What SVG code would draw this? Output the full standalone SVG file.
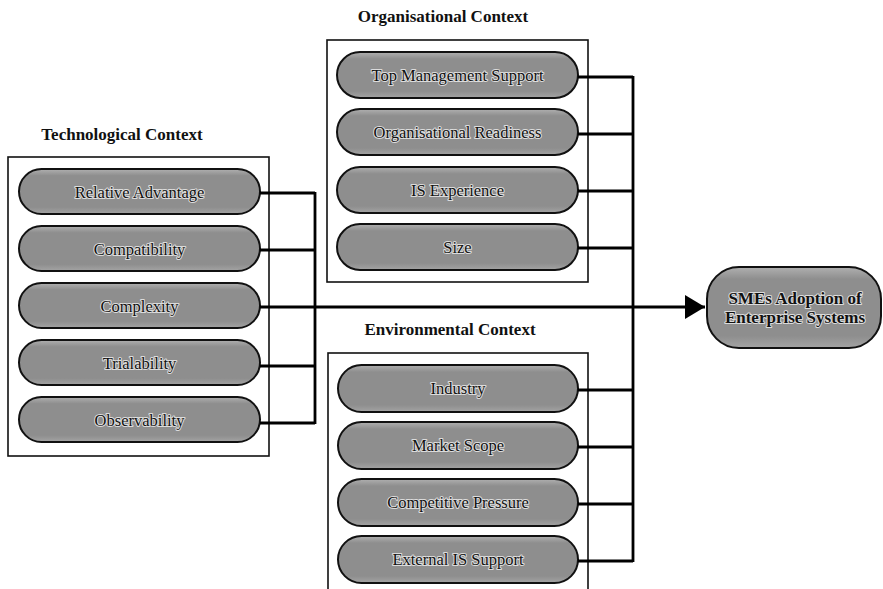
<svg xmlns="http://www.w3.org/2000/svg" width="883" height="589" viewBox="0 0 883 589">
<defs>
<linearGradient id="pg" x1="0" y1="0" x2="0" y2="1">
<stop offset="0" stop-color="#b0b0b0"/>
<stop offset="0.15" stop-color="#8e8e8e"/>
<stop offset="0.85" stop-color="#8e8e8e"/>
<stop offset="1" stop-color="#a4a4a4"/>
</linearGradient>
<marker id="arr" markerWidth="20" markerHeight="24" refX="20" refY="12" orient="auto" markerUnits="userSpaceOnUse">
<path d="M0,0 L20,12 L0,24 Z" fill="#000"/>
</marker>
</defs>
<style>
.box{fill:#fff;stroke:#111;stroke-width:1.6}
.pill{fill:url(#pg);stroke:#111;stroke-width:2}
.t{font-family:"Liberation Serif","Times New Roman",serif;font-size:16.5px;fill:#111;text-anchor:middle;paint-order:stroke;stroke:#dcdcdc;stroke-width:2;stroke-linejoin:round}
.h{font-family:"Liberation Serif","Times New Roman",serif;font-size:17px;font-weight:bold;fill:#111;text-anchor:middle}
.b{font-family:"Liberation Serif","Times New Roman",serif;font-size:17px;font-weight:bold;fill:#111;text-anchor:middle;paint-order:stroke;stroke:#dcdcdc;stroke-width:2;stroke-linejoin:round}
.c{fill:none;stroke:#000;stroke-width:2.8}
</style>
<rect width="883" height="589" fill="#fff"/>

<g id="tech">
<text class="h" x="122" y="140">Technological Context</text>
<rect class="box" x="8" y="157" width="261" height="299"/>
</g>
<g id="n-ra"><rect class="pill" x="19" y="169" width="241" height="45" rx="22.5"/><text class="t" x="139.5" y="198">Relative Advantage</text></g>
<g id="n-comp"><rect class="pill" x="19" y="226" width="241" height="45" rx="22.5"/><text class="t" x="139.5" y="255">Compatibility</text></g>
<g id="n-cplx"><rect class="pill" x="19" y="283" width="241" height="45" rx="22.5"/><text class="t" x="139.5" y="312">Complexity</text></g>
<g id="n-tri"><rect class="pill" x="19" y="340" width="241" height="45" rx="22.5"/><text class="t" x="139.5" y="369">Trialability</text></g>
<g id="n-obs"><rect class="pill" x="19" y="397" width="241" height="45" rx="22.5"/><text class="t" x="139.5" y="426">Observability</text></g>

<g id="org">
<text class="h" x="443" y="22">Organisational Context</text>
<rect class="box" x="327" y="40" width="261" height="242"/>
</g>
<g id="n-tms"><rect class="pill" x="337" y="52" width="241" height="46" rx="23"/><text class="t" x="457.5" y="81">Top Management Support</text></g>
<g id="n-or"><rect class="pill" x="337" y="109" width="241" height="46" rx="23"/><text class="t" x="457.5" y="138">Organisational Readiness</text></g>
<g id="n-ise"><rect class="pill" x="337" y="167" width="241" height="46" rx="23"/><text class="t" x="457.5" y="196">IS Experience</text></g>
<g id="n-size"><rect class="pill" x="337" y="224" width="241" height="46" rx="23"/><text class="t" x="457.5" y="253">Size</text></g>

<g id="env">
<text class="h" x="450" y="335">Environmental Context</text>
<rect class="box" x="328" y="353" width="260" height="250"/>
</g>
<g id="n-ind"><rect class="pill" x="338" y="365" width="240" height="47" rx="23.5"/><text class="t" x="458" y="394">Industry</text></g>
<g id="n-ms"><rect class="pill" x="338" y="422" width="240" height="47" rx="23.5"/><text class="t" x="458" y="451">Market Scope</text></g>
<g id="n-cp"><rect class="pill" x="338" y="479" width="240" height="47" rx="23.5"/><text class="t" x="458" y="508">Competitive Pressure</text></g>
<g id="n-eis"><rect class="pill" x="338" y="536" width="240" height="47" rx="23.5"/><text class="t" x="458" y="565">External IS Support</text></g>

<g id="n-target">
<rect class="pill" x="707" y="267" width="174" height="81" rx="32"/>
<text class="b" x="795" y="304">SMEs Adoption of</text>
<text class="b" x="795" y="323">Enterprise Systems</text>
</g>

<g id="connectors">
<path class="c" d="M260,193 H315 M260,250 H315 M260,366 H315 M260,423 H315 M315,192 V424"/>
<path class="c" d="M578,77 H633 M578,134 H633 M578,191 H633 M578,248 H633 M578,390 H633 M578,447 H633 M578,504 H633 M578,561 H633 M633,76 V562"/>
<path class="c" d="M260,307 H705" marker-end="url(#arr)"/>
</g>
</svg>
